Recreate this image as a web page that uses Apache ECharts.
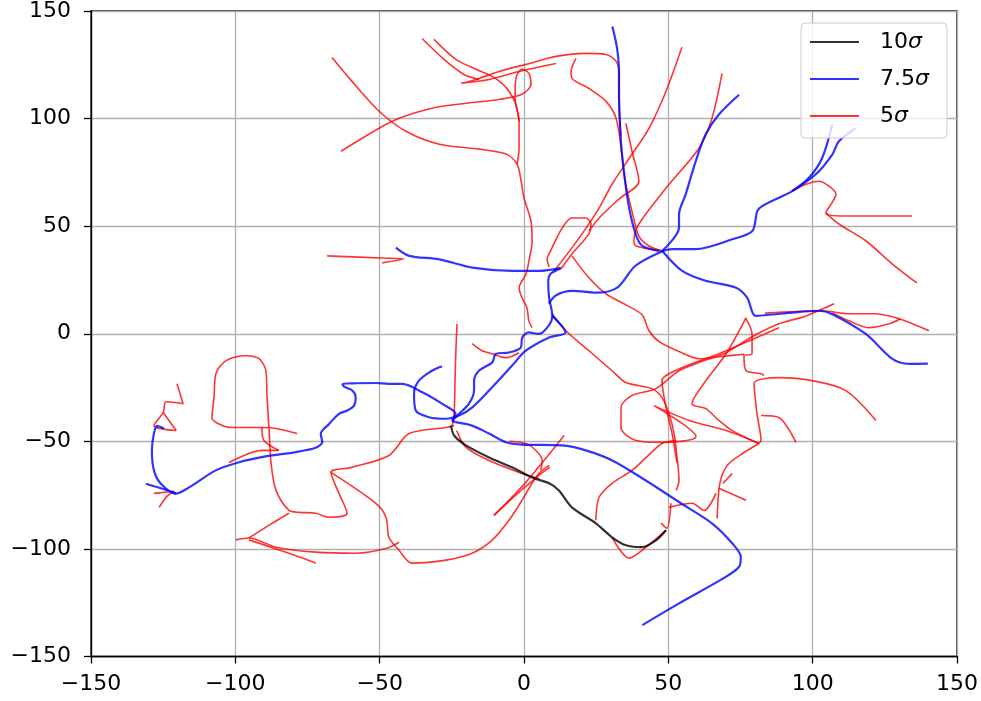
<!DOCTYPE html>
<html>
<head>
<meta charset="utf-8">
<script src="https://cdn.jsdelivr.net/npm/echarts@6/dist/echarts.min.js"></script>
<style>html,body{margin:0;padding:0;background:#fff;}#c{width:981px;height:701px;}</style>
</head>
<body>
<div id="c"></div>
<script>
// ---------- axis ticks ----------
const xTicks = [-150, -100, -50, 0, 50, 100, 150];
const yTicks = [-150, -100, -50, 0, 50, 100, 150];
const legendNames = ['10σ', '7.5σ', '5σ'];

// ---------- 10 sigma (black) ----------
const black10 = [[-25.3,-42.7],[-24.2,-47.3],[-20.1,-51.9],[-12.1,-57.5],[-4.2,-62.1],[2.8,-66.8],[8.7,-69.5],[12.1,-72.8],[16.6,-80.7],[24.9,-88.1],[30.5,-94.6],[35.3,-98.3],[40.9,-99.2],[45.7,-96],[49.2,-91.3]];

// ---------- 7.5 sigma (blue) ----------
const blueTail = [[-131,-69.7],[-124.1,-72.5],[-120.6,-74.3]];
const blueLeft = [[-124.7,-44],[-127.1,-42.8],[-128.2,-46.4],[-128.9,-54.2],[-128.2,-63.5],[-125.8,-69.7],[-120.6,-74.3],[-116,-71.4],[-106.8,-63.5],[-98.7,-59.7],[-89.5,-57],[-79.1,-55],[-72.2,-53],[-69.9,-50.4],[-70.4,-46.5],[-67.5,-41.9],[-64.1,-37.2],[-61.2,-35.7],[-58.9,-33.4],[-58.3,-29.5],[-59.5,-26.4],[-62.3,-24.6],[-62.9,-23.3],[-58.3,-23],[-51.4,-22.9],[-46.8,-23.3],[-42.2,-23.3],[-35.2,-27.2],[-28.3,-32.6],[-23.7,-37.2],[-24.8,-40.3],[-23.7,-41.1]];
const blueLoop = [[-28.4,-15.2],[-29.4,-15.6],[-31.9,-17.2],[-36.4,-21.8],[-38.1,-27.8],[-37.5,-35.7],[-32.9,-38.8],[-27.1,-39.5],[-22.5,-38],[-17.9,-34.2],[-12.1,-26.4],[-4.1,-14.8],[0.6,-7.9],[8.7,-1.7],[14.4,0.6],[9.8,8.3]];
const blueWiggle = [[12.7,30.5],[9.1,27.7],[8.4,23.8],[8.7,16.8],[9.8,8.3],[8.7,4],[5.2,-0.1],[1.7,0.6],[-0.6,-1.7],[-1.1,-6.4],[-5.2,-8.7],[-9.8,-9.4],[-11,-13.3],[-15.6,-17.2],[-17.3,-21.8],[-17.3,-26.4],[-19.1,-32.6],[-22.5,-37.2],[-24.8,-40.3]];
const blueHoriz = [[-44.4,40],[-39.8,36.2],[-29.4,34.6],[-17.9,30.7],[-4.1,29.2],[5.2,29.2],[12.7,30.5]];
const blueArc = [[8.6,14],[11,17.8],[16.7,19.9],[26,19.1],[32.4,21.5],[38.5,31.5],[46.8,37.7],[51.4,39.3],[59.5,39.3],[72.2,43.9],[79.1,47.8],[80.8,57],[82.5,59.3],[88.3,63.2],[92.9,66.3],[98.7,72.5],[103.3,81.7],[106.8,97.2]];
const blueFork = [[92.9,66.3],[101,74],[106.8,83.3],[109.1,89.5],[114.9,95.6]];
const blueRight = [[47.9,38.5],[54.8,29.2],[62.9,24.6],[73.3,21.5],[77.3,16.8],[80.3,8.3],[89.5,9.4],[102.2,10.7],[106.8,9.1],[118.4,-0.1],[127.6,-11.7],[133.4,-14],[139.9,-13.9]];
const blueUp = [[47.9,38.5],[53.7,49.3],[53.7,55.5],[56,64.8],[59.5,80.2],[62.9,92.6],[67.5,101.9],[74.5,111.1]];
const blueTop = [[30.6,142.8],[32.2,133],[32.9,122],[32.9,114.2],[33.5,91],[34.6,75.6],[36.4,58.6],[38.7,46.2],[41,40.8],[46.8,38.5]];
const blueLowRight = [[-23.7,-41.1],[-18,-42.7],[-12.1,-46.4],[-6.3,-50.4],[-0.7,-51.5],[13.2,-51.9],[21.4,-54.2],[30.6,-58.9],[42.2,-68.2],[53.7,-78.2],[65.2,-88.2],[72.2,-97.5],[75.1,-103.7],[74.5,-108.3],[69.9,-113],[53.7,-125.3],[41,-135.4]];

// ---------- 5 sigma (red) ----------
const redT1 = [[-66.5,128.4],[-59.6,117.3],[-50.2,103.4],[-40.9,94.1],[-29.4,88.1],[-15.6,85.8],[-6.2,83.5],[-2.4,78.8],[-1,70.9],[0,63.1],[2.4,52.4],[2.8,43.1],[1.7,33.8],[0.7,27.8],[-1.7,21.3],[-0.7,16.7],[1,12.1],[1.7,6],[2.8,2.8]];
const redT2 = [[-63.4,84.8],[-50.2,95.5],[-43.3,100.1],[-31.9,104.8],[-20.1,107.1],[-8.7,108.9],[-0.7,111.3],[2.4,115.9],[1.7,121],[-0.7,122.9],[-2.8,118.7],[-3.1,109.4],[-1.7,98.7],[-1.7,86.2],[-2.4,78.8]];
const redT3 = [[11.1,125.6],[-1.7,121.9],[-12.1,118.2],[-21.8,116.4],[-16.6,118.2],[-8.7,121.9],[0.7,125.2],[11.1,128.9],[21.5,130.3],[28.4,129.8],[31.9,126.6],[32.9,121],[32.9,108],[33.6,91.8]];
const redT3a = [[-35.3,137.2],[-27.7,127.5],[-20.8,120.5],[-15.6,118.2]];
const redT3b = [[-31.2,136.8],[-23.6,127.5],[-16.6,122.9],[-11.1,119.6],[-7.6,116.4],[-5.2,112.7],[-2.8,106.6],[-1.7,98.7]];
const redT4 = [[18,128],[16.3,121.9],[16.6,118.7],[22.5,114],[28.4,108],[31.9,100.1],[33.9,83.4],[35,70.9],[37.4,57],[39.8,45.4],[43.3,40.8],[47.8,38.5]];
const redT5 = [[35.3,97.8],[37.4,84.8],[39.8,70.9],[32.9,62.6],[26,53.8],[22.5,47.8]];
const redT6 = [[68.6,121],[65.1,100.1],[60.6,86.2],[49.2,67.7],[39.8,51],[38.1,43.1],[38.8,40.8],[47.8,38.5]];
const redT7 = [[54.7,133.1],[49.2,112.7],[43.3,95.5],[37.4,83.4],[30.5,69.5],[26,58.4],[20.1,46.4],[14.5,36.2],[10.4,29.2]];
const redT8 = [[8.7,31],[8,35],[8.7,37.1],[13.2,49.1],[16.6,53.8],[21.5,53.8],[23.2,51],[22.5,46.4],[16.6,37.1],[12.8,30.1]];
const redT9 = [[-68.2,36.2],[-49.2,35.2],[-41.6,34.8],[-49.2,32.9]];
const redT10 = [[-23.2,4.6],[-23.6,-7.9],[-23.9,-21.8],[-24.2,-37.1],[-24.9,-42.7]];
const redT11 = [[-18,-4.6],[-14.5,-7.9],[-11.1,-9.3],[-6.2,-11.1],[-1.7,-8.8]];
const redM1 = [[9.7,9.3],[14.5,1.4],[22.5,-7.9],[30.5,-17.2],[35.3,-22.7],[44.3,-25.5],[47.8,-29.7],[50.2,-37.1],[52,-46.4],[53,-57.5],[53.7,-68.1],[52.7,-72.8]];
const redM2 = [[16.6,36.2],[22.5,26],[28.4,18.5],[35.3,13.4],[40.9,8.8],[43.3,1.4],[46.8,-3.7],[53.7,-8.3],[60.6,-11.6],[67.5,-10.7],[76.2,-9.5]];
const redM3 = [[76.7,7.4],[79,-0.1],[79,-9.3],[76.2,-10.2],[76.9,-17.1],[82.5,-18.7],[83.1,-19.5]];
const redL = [[107.4,13.9],[97.7,8.3],[88.3,4.6],[79,-1.4],[70,-8.8],[60.6,-13.4],[53.7,-17.2],[45.7,-25.5],[37.4,-28.7],[33.6,-34.3],[33.6,-43.6],[38.8,-49.6],[47.8,-50.5],[59.6,-47.8],[45,-33.4],[57.2,-40.3],[70,-45],[81.4,-51]];
const redL2 = [[88.3,2.8],[67.5,-9.3],[54.7,-15.8],[47.8,-21.8],[49.2,-34.3],[51.3,-46.4],[53,-60]];
const redV = [[76.9,7.4],[70,-9.3],[63,-21.8],[58.2,-32.5],[63,-34.8],[67.5,-40.3],[72.1,-45],[81.4,-51]];
const redVup = [[81.4,-51],[82.1,-49.6],[80.7,-37.1],[79.7,-23.2],[88.3,-20.4],[99.8,-21.8],[111.5,-26.4],[121.9,-40.3]];
const redVdown = [[81.4,-51],[76.2,-55.2],[71,-60.3],[68.6,-65.8],[67.5,-72.8],[66.9,-85.8]];
const redS1 = [[72.1,-65],[68.9,-69.6]];
const redS2 = [[76.9,-77.4],[67.5,-71.8]];
const redArc = [[82.1,-38],[88.3,-38.9],[94.2,-50.5]];
const redW1 = [[83.5,9.6],[103.2,10.7],[112.6,9.3],[121.2,9.3],[129.9,7],[140.3,1.4]];
const redW2 = [[106.8,9.7],[112.6,6],[119.5,2.8],[126.4,4.6],[130.5,7]];
const redE1 = [[92.9,66.3],[97.7,69.5],[102.2,70.9],[105.7,68.6],[108.1,64.9],[104.6,56.1],[110.9,54.7],[123,54.7],[134.4,54.7]];
const redE2 = [[104.6,56.1],[109.1,51],[118.5,43.1],[127.5,32.5],[136.1,23.6]];
const redR11 = [[24.9,-86.7],[26,-76],[30.5,-69.5],[37.4,-63.5],[42.3,-57.5],[47.8,-51],[52.7,-49.6]];
const redRV = [[30.5,-94.6],[36.4,-104.3],[42.3,-99.2],[49.2,-91.3]];
const redRSV = [[50.9,-78.8],[49.5,-90.4],[47.5,-88]];
const redR14 = [[50.2,-80.7],[58.2,-78.8],[62.4,-82.1],[66.5,-74.2]];
const redZig = [[-120.2,-23.2],[-118.1,-32.5],[-124,-31.6],[-125,-36.6],[-128.2,-42.7],[-120.5,-45],[-125,-36.6]];
const redSp1 = [[-128.2,-74.2],[-121.2,-73.2]];
const redSp2 = [[-126.4,-80.7],[-123.7,-75.6],[-121.2,-73.2]];
const redLoop = [[-78.6,-46.4],[-85.9,-44],[-90.8,-43.6],[-101.2,-43.6],[-108.1,-38.9],[-107.4,-29.7],[-106.7,-18.5],[-103.2,-12.5],[-96.3,-10.2],[-91.8,-11.6],[-89.4,-17.2],[-89,-29.7],[-88.3,-45],[-87.6,-60.3],[-85.9,-72.8],[-81.4,-82.1],[-77.9,-83],[-72.1,-83.4],[-67.5,-85.3],[-61.3,-83.4],[-64.1,-74.2],[-66.9,-64.4],[-59.6,-62.1],[-46.8,-56.6],[-39.8,-46.4],[-27,-43.6],[-24.2,-42.7]];
const redRB = [[-102.2,-59.8],[-90.8,-54.2],[-84.9,-54.2]];
const redRB2 = [[-90.8,-43.6],[-90.1,-49.6],[-84.9,-54.2]];
const redB2 = [[-66.9,-64.4],[-51.3,-78.8],[-47.8,-85.3],[-46.8,-94.6],[-43.3,-100.6],[-38.8,-106.6],[-27,-105.2],[-18,-102],[-11.1,-96],[-5.2,-86.7],[-0.7,-77.4],[2.8,-69.5],[5.2,-64.9],[8.7,-61.2]];
const redBL = [[-99.8,-95.8],[-95.3,-94.9],[-85.9,-99.2],[-72.1,-101.5],[-58.2,-102],[-47.5,-99.7],[-43.3,-96.9]];
const redBLc = [[-95.3,-94.9],[-87.3,-88.1],[-81.4,-83.4]];
const redBLd = [[-95.3,-95.8],[-83.7,-101],[-72.1,-106.6]];
const redK = [[-23.3,-45],[-20.2,-52.7],[-12.1,-58.9],[-0.6,-65],[5.2,-67.4]];
const redX1 = [[-10.4,-84.4],[0,-70],[13.9,-47.3]];
const redX2 = [[-10.4,-84.4],[-2,-74],[5,-66],[9,-62]];
const redX3 = [[-5,-50],[0.6,-51],[4,-54],[6.3,-58.9],[5.8,-63.5]];

const blueSegs = [blueTail, blueLeft, blueLoop, blueWiggle, blueHoriz, blueArc, blueFork, blueRight, blueUp, blueTop, blueLowRight];
const redSegs = [redT1, redT2, redT3, redT3a, redT3b, redT4, redT5, redT6, redT7, redT8, redT9, redT10, redT11, redM1, redM2, redM3, redL, redL2, redV, redVup, redVdown, redS1, redS2, redArc, redW1, redW2, redE1, redE2, redR11, redRV, redRSV, redR14, redZig, redSp1, redSp2, redLoop, redRB, redRB2, redB2, redBL, redBLc, redBLd, redK, redX1, redX2, redX3];

const COL_BLACK = 'rgba(0,0,0,0.8)';
const COL_BLUE = 'rgba(0,0,255,0.8)';
const COL_RED = 'rgba(255,0,0,0.8)';

function mk(name, data, color, width, z) {
  return {
    type: 'line', name: name, data: data, symbol: 'none', showSymbol: false,
    smooth: 0.3, color: color, itemStyle: {color: color},
    lineStyle: {color: color, width: width}, z: z, clip: true,
    silent: true, animation: false
  };
}

const series = [];
redSegs.forEach(d => series.push(mk('5σ', d, COL_RED, 1.6, 2)));
blueSegs.forEach(d => series.push(mk('7.5σ', d, COL_BLUE, 2.2, 3)));
series.push(mk('10σ', black10, COL_BLACK, 2.2, 4));

const FONT = 'DejaVu Sans';
const fmt = v => (v < 0 ? '\u2212' + Math.abs(v) : String(v));

const chart = echarts.init(document.getElementById('c'), null, {renderer: 'canvas'});
chart.setOption({
  animation: false,
  backgroundColor: '#ffffff',
  grid: {left: 91, right: 21.5, top: 10.5, bottom: 44.5, show: true, borderColor: '#000', borderWidth: 1.3, containLabel: false},
  xAxis: {
    type: 'value', min: xTicks[0], max: xTicks[xTicks.length-1], interval: 50,
    axisLine: {show: true, onZero: false, lineStyle: {color: '#000', width: 1.3}},
    axisTick: {show: true, inside: false, length: 7, lineStyle: {color: '#000', width: 1.3}},
    axisLabel: {margin: 17, color: '#000', fontSize: 22, fontFamily: FONT, formatter: fmt},
    splitLine: {show: true, lineStyle: {color: '#b0b0b0', width: 1.3}}
  },
  yAxis: {
    type: 'value', min: yTicks[0], max: yTicks[yTicks.length-1], interval: 50,
    axisLine: {show: true, onZero: false, lineStyle: {color: '#000', width: 1.3}},
    axisTick: {show: true, inside: false, length: 7, lineStyle: {color: '#000', width: 1.3}},
    axisLabel: {margin: 20, color: '#000', fontSize: 22, fontFamily: FONT, formatter: fmt},
    splitLine: {show: true, lineStyle: {color: '#b0b0b0', width: 1.3}}
  },
  legend: {
    data: legendNames.map((n, i) => ({name: n, itemStyle: {color: [COL_BLACK, COL_BLUE, COL_RED][i]}})),
    orient: 'vertical', left: 801, top: 23,
    padding: [6, 18, 9, 9], itemGap: 11,
    icon: 'rect', itemWidth: 49, itemHeight: 2,
    backgroundColor: 'rgba(255,255,255,0.8)', borderColor: '#cccccc', borderWidth: 1, borderRadius: 4,
    selectedMode: false,
    formatter: n => n.replace('σ', '{s|σ}'),
    textStyle: {
      fontSize: 22, fontFamily: FONT, color: '#000', lineHeight: 26, padding: [0, 0, 0, 16],
      rich: {s: {fontSize: 22, fontFamily: FONT, fontStyle: 'italic', color: '#000', lineHeight: 26}}
    }
  },
  series: series
});
</script>
</body>
</html>
